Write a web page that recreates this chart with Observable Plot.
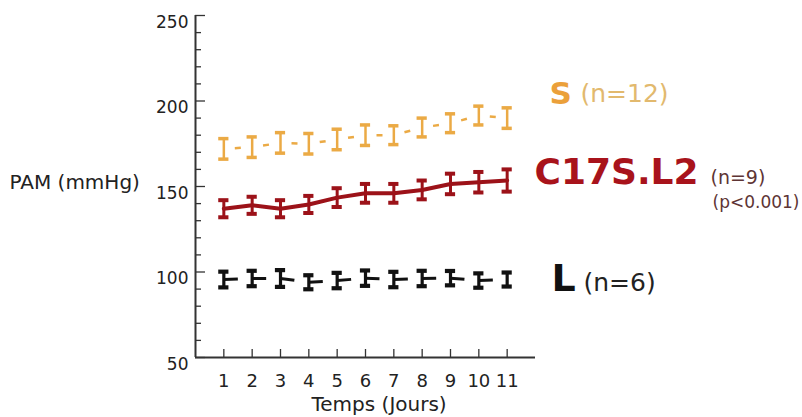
<!DOCTYPE html>
<html>
<head>
<meta charset="utf-8">
<script src="https://cdn.jsdelivr.net/npm/d3@7"></script>
<script src="https://cdn.jsdelivr.net/npm/@observablehq/plot@0.6"></script>
<style>
  html, body { margin: 0; padding: 0; background: #fff; }
  #chart { width: 802px; height: 417px; }
</style>
</head>
<body>
<div id="chart"></div>
<script>
// ---- data ----
const days = [1, 2, 3, 4, 5, 6, 7, 8, 9, 10, 11];
const yMajorTicks = [50, 100, 150, 200, 250];
const yMinorTicks = [60, 70, 80, 90, 110, 120, 130, 140, 160, 170, 180, 190, 210, 220, 230, 240];

const sMean = [172, 173, 175.5, 175, 177.5, 180, 180, 184.5, 187, 191.5, 190];
const sErr  = [6, 6, 6, 6, 6, 6, 5.5, 5.5, 5.5, 5.5, 6];

const cMean = [137, 139, 137, 139.5, 143.5, 146, 146, 148, 151.5, 152.5, 153.5];
const cErr  = [5, 5, 5, 5, 5.5, 5.5, 5.5, 5.5, 6, 6, 6.5];

const lMean = [95.6, 96.2, 96.2, 94, 95, 96.4, 95.6, 96.2, 96.4, 95, 95.6];
const lErr  = [4.6, 4.5, 4.9, 4.1, 4.5, 4.5, 4.5, 4.5, 4.2, 4.2, 4.1];

const seriesNames = ["S", "C17S.L2", "L"];
const seriesN = ["(n=12)", "(n=9)", "(n=6)"];
const pValue = "(p<0.001)";
const yTitle = "PAM (mmHg)";
const xTitle = "Temps (Jours)";

// ---- build tables ----
const toRows = (mean, err) => days.map((d, i) => ({day: d, v: mean[i], e: err[i]}));
const toLinks = (rows) => rows.slice(0, -1).map((r, i) => ({x1: r.day, y1: r.v, x2: rows[i + 1].day, y2: rows[i + 1].v}));
const S = toRows(sMean, sErr), C = toRows(cMean, cErr), L = toRows(lMean, lErr);

const FONT = "DejaVu Sans";
const colS = "#EBAA45", colC = "#9C1219", colL = "#111111";
const capHalf = 0.18;

function errorBars(rows, color, w) {
  return [
    Plot.ruleX(rows, {x: "day", y1: d => d.v - d.e, y2: d => d.v + d.e, stroke: color, strokeWidth: w}),
    Plot.ruleY(rows, {y: d => d.v + d.e, x1: d => d.day - capHalf, x2: d => d.day + capHalf, stroke: color, strokeWidth: w + 1}),
    Plot.ruleY(rows, {y: d => d.v - d.e, x1: d => d.day - capHalf, x2: d => d.day + capHalf, stroke: color, strokeWidth: w + 1})
  ];
}

const ML = 195, MT = 15;
const note = (txt, x, y, opts) => Plot.text([txt], {
  text: d => d, frameAnchor: "top-left", dx: x - ML, dy: y - MT,
  textAnchor: "start", lineAnchor: "bottom", fontFamily: FONT, ...opts
});

const chart = Plot.plot({
  width: 802,
  height: 417,
  marginLeft: ML,
  marginRight: 267,
  marginTop: MT,
  marginBottom: 60,
  style: {fontFamily: FONT, background: "#fff", color: "#222", overflow: "visible"},
  x: {domain: [0, 12]},
  y: {domain: [50, 250]},
  marks: [
    // axes
    Plot.axisY({ticks: yMinorTicks, tickSize: -6, tickFormat: () => "", label: null, stroke: "#333", strokeWidth: 1.3}),
    Plot.axisY({ticks: yMajorTicks, tickSize: -10, tickFormat: () => "", label: null, stroke: "#333", strokeWidth: 1.3}),
    Plot.axisY({ticks: yMajorTicks, tickSize: 0, tickPadding: 7, dy: 7, fontSize: 17, label: null, fill: "#222"}),
    Plot.axisX({ticks: days, tickSize: -8, tickFormat: () => "", label: null, stroke: "#333", strokeWidth: 1.3}),
    Plot.axisX({ticks: days, tickSize: 0, tickPadding: 17, fontSize: 18, label: null, fill: "#222"}),
    Plot.ruleX([0], {stroke: "#333", strokeWidth: 2}),
    Plot.ruleY([50], {stroke: "#333", strokeWidth: 2}),

    // S series (dashed, short dash in middle of each interval)
    Plot.link(toLinks(S), {x1: "x1", y1: "y1", x2: "x2", y2: "y2", stroke: colS, strokeWidth: 2.5, strokeDasharray: "0,11,6,100"}),
    ...errorBars(S, colS, 2.5),

    // C17S.L2 series (solid)
    Plot.line(C, {x: "day", y: "v", stroke: colC, strokeWidth: 4}),
    ...errorBars(C, colC, 3),

    // L series (dash after each point)
    Plot.link(toLinks(L), {x1: "x1", y1: "y1", x2: "x2", y2: "y2", stroke: colL, strokeWidth: 3, strokeDasharray: "14,100"}),
    ...errorBars(L, colL, 3.2),

    // annotations
    note(seriesNames[0], 549, 103, {fontSize: 31, fontWeight: "bold", fill: "#EBA03A"}),
    note(seriesN[0], 580, 101, {fontSize: 25, fill: "#E2B96E"}),
    note(seriesNames[1], 534, 183, {fontSize: 36, fontWeight: "bold", fill: "#A8131B"}),
    note(seriesN[1], 710, 183, {fontSize: 19, fill: "#5e3434"}),
    note(pValue, 712, 207, {fontSize: 17, fill: "#5e3434"}),
    note(seriesNames[2], 551, 290, {fontSize: 38, fontWeight: "bold", fill: "#111"}),
    note(seriesN[2], 583, 290, {fontSize: 25, fill: "#222"}),
    note(yTitle, 9, 188, {fontSize: 20, fill: "#222"}),
    note(xTitle, 311, 410, {fontSize: 20, fill: "#222"})
  ]
});

document.getElementById("chart").appendChild(chart);
</script>
</body>
</html>
